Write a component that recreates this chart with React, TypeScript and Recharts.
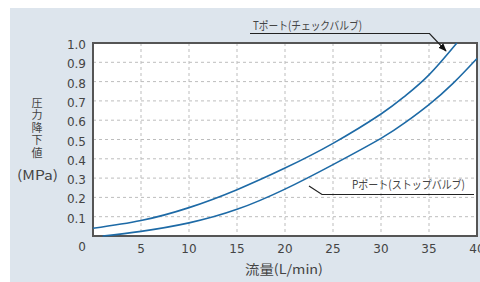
import { LineChart, Line, XAxis, YAxis, CartesianGrid, ReferenceArea } from 'recharts'

const flowTicks = [0, 5, 10, 15, 20, 25, 30, 35, 40]
const dropTicks = [0.1, 0.2, 0.3, 0.4, 0.5, 0.6, 0.7, 0.8, 0.9, 1.0]

// Tポート(チェックバルブ)
const tPortFlow = [0, 5, 10, 15, 20, 25, 30, 32.5, 35, 37.9]
const tPortDrop = [0.04, 0.08, 0.147, 0.24, 0.352, 0.48, 0.632, 0.725, 0.835, 1.0]

// Pポート(ストップバルブ)
const pPortFlow = [1, 5, 10, 15, 20, 25, 30, 32.5, 35, 37.5, 40]
const pPortDrop = [0, 0.024, 0.068, 0.138, 0.243, 0.37, 0.506, 0.587, 0.681, 0.791, 0.92]

const tPortData = tPortFlow.map((flow, i) => ({ flow, drop: tPortDrop[i] }))
const pPortData = pPortFlow.map((flow, i) => ({ flow, drop: pPortDrop[i] }))

const JP = '"Noto Sans CJK JP", "Noto Sans", sans-serif'
const NUM = '"DejaVu Sans", sans-serif'
const TEXT = '#444'
const CURVE = '#1d6aa6'

const XTick = (props: any) => {
  const { x, payload } = props
  const zero = payload.value === 0
  return (
    <text
      x={zero ? x - 11 : x}
      y={zero ? 247 : 249}
      textAnchor="middle"
      dominantBaseline="central"
      fontFamily={NUM}
      fontSize={12}
      fill={TEXT}
    >
      {payload.value}
    </text>
  )
}

const YTick = (props: any) => {
  const { y, payload } = props
  return (
    <text
      x={86}
      y={y + 2}
      textAnchor="end"
      dominantBaseline="central"
      fontFamily={NUM}
      fontSize={12}
      fill={TEXT}
    >
      {payload.value.toFixed(1)}
    </text>
  )
}

export default function App() {
  return (
    <div style={{ position: 'absolute', left: 0, top: 0, width: 480, height: 282, background: '#fff' }}>
      <div style={{ position: 'absolute', left: 10, top: 8, width: 470, height: 274, background: '#dde5ed' }} />
      <div style={{ position: 'absolute', left: 0, top: 0 }}>
        <LineChart width={480} height={282} margin={{ top: 43, right: 3, left: 0, bottom: 0 }}>
          <CartesianGrid stroke="#bdbdbd" strokeDasharray="3 3" fill="#fff" />
          <XAxis
            type="number"
            dataKey="flow"
            domain={[0, 40]}
            ticks={flowTicks}
            height={46}
            tickLine={false}
            axisLine={false}
            tick={<XTick />}
            interval={0}
          />
          <YAxis
            type="number"
            domain={[0, 1]}
            ticks={dropTicks}
            width={93}
            tickLine={false}
            axisLine={false}
            tick={<YTick />}
            interval={0}
          />
          <ReferenceArea x1={0} x2={40} y1={0} y2={1} fill="none" stroke="#555" strokeWidth={2} />
          <Line data={tPortData} dataKey="drop" type="natural" stroke={CURVE} strokeWidth={1.6} dot={false} isAnimationActive={false} />
          <Line data={pPortData} dataKey="drop" type="natural" stroke={CURVE} strokeWidth={1.6} dot={false} isAnimationActive={false} />
        </LineChart>
      </div>
      <svg width={480} height={282} style={{ position: 'absolute', left: 0, top: 0, pointerEvents: 'none' }}>
        <defs>
          <marker id="arrow" viewBox="0 0 10 10" refX="9" refY="5" markerWidth="7" markerHeight="7" orient="auto">
            <path d="M0,1 L10,5 L0,9 z" fill="#111" />
          </marker>
        </defs>
        {/* vertical y title */}
        <text
          x={37}
          y={97}
          style={{ writingMode: 'vertical-rl' }}
          fontFamily={JP}
          fontSize={11}
          letterSpacing={1.5}
          fill={TEXT}
        >
          圧力降下値
        </text>
        <text x={37.5} y={174} textAnchor="middle" dominantBaseline="central" fontFamily={JP} fontSize={13} fill={TEXT} textLength={41} lengthAdjust="spacingAndGlyphs">
          (MPa)
        </text>
        <text x={245} y={268} dominantBaseline="central" fontFamily={JP} fontSize={13} fill={TEXT} textLength={78} lengthAdjust="spacingAndGlyphs">
          流量(L/min)
        </text>
        <text x={253} y={25} dominantBaseline="central" fontFamily={JP} fontSize={11.5} fill={TEXT} textLength={109} lengthAdjust="spacingAndGlyphs">
          Tポート(チェックバルブ)
        </text>
        <polyline points="250,33.5 429.5,33.5 446,51" fill="none" stroke="#222" strokeWidth={1.2} markerEnd="url(#arrow)" />
        <text x={352} y={184} dominantBaseline="central" fontFamily={JP} fontSize={11.5} fill={TEXT} textLength={113} lengthAdjust="spacingAndGlyphs">
          Pポート(ストップバルブ)
        </text>
        <polyline points="309,186 322,194.5 474,194.5" fill="none" stroke="#222" strokeWidth={1.2} />
      </svg>
    </div>
  )
}
